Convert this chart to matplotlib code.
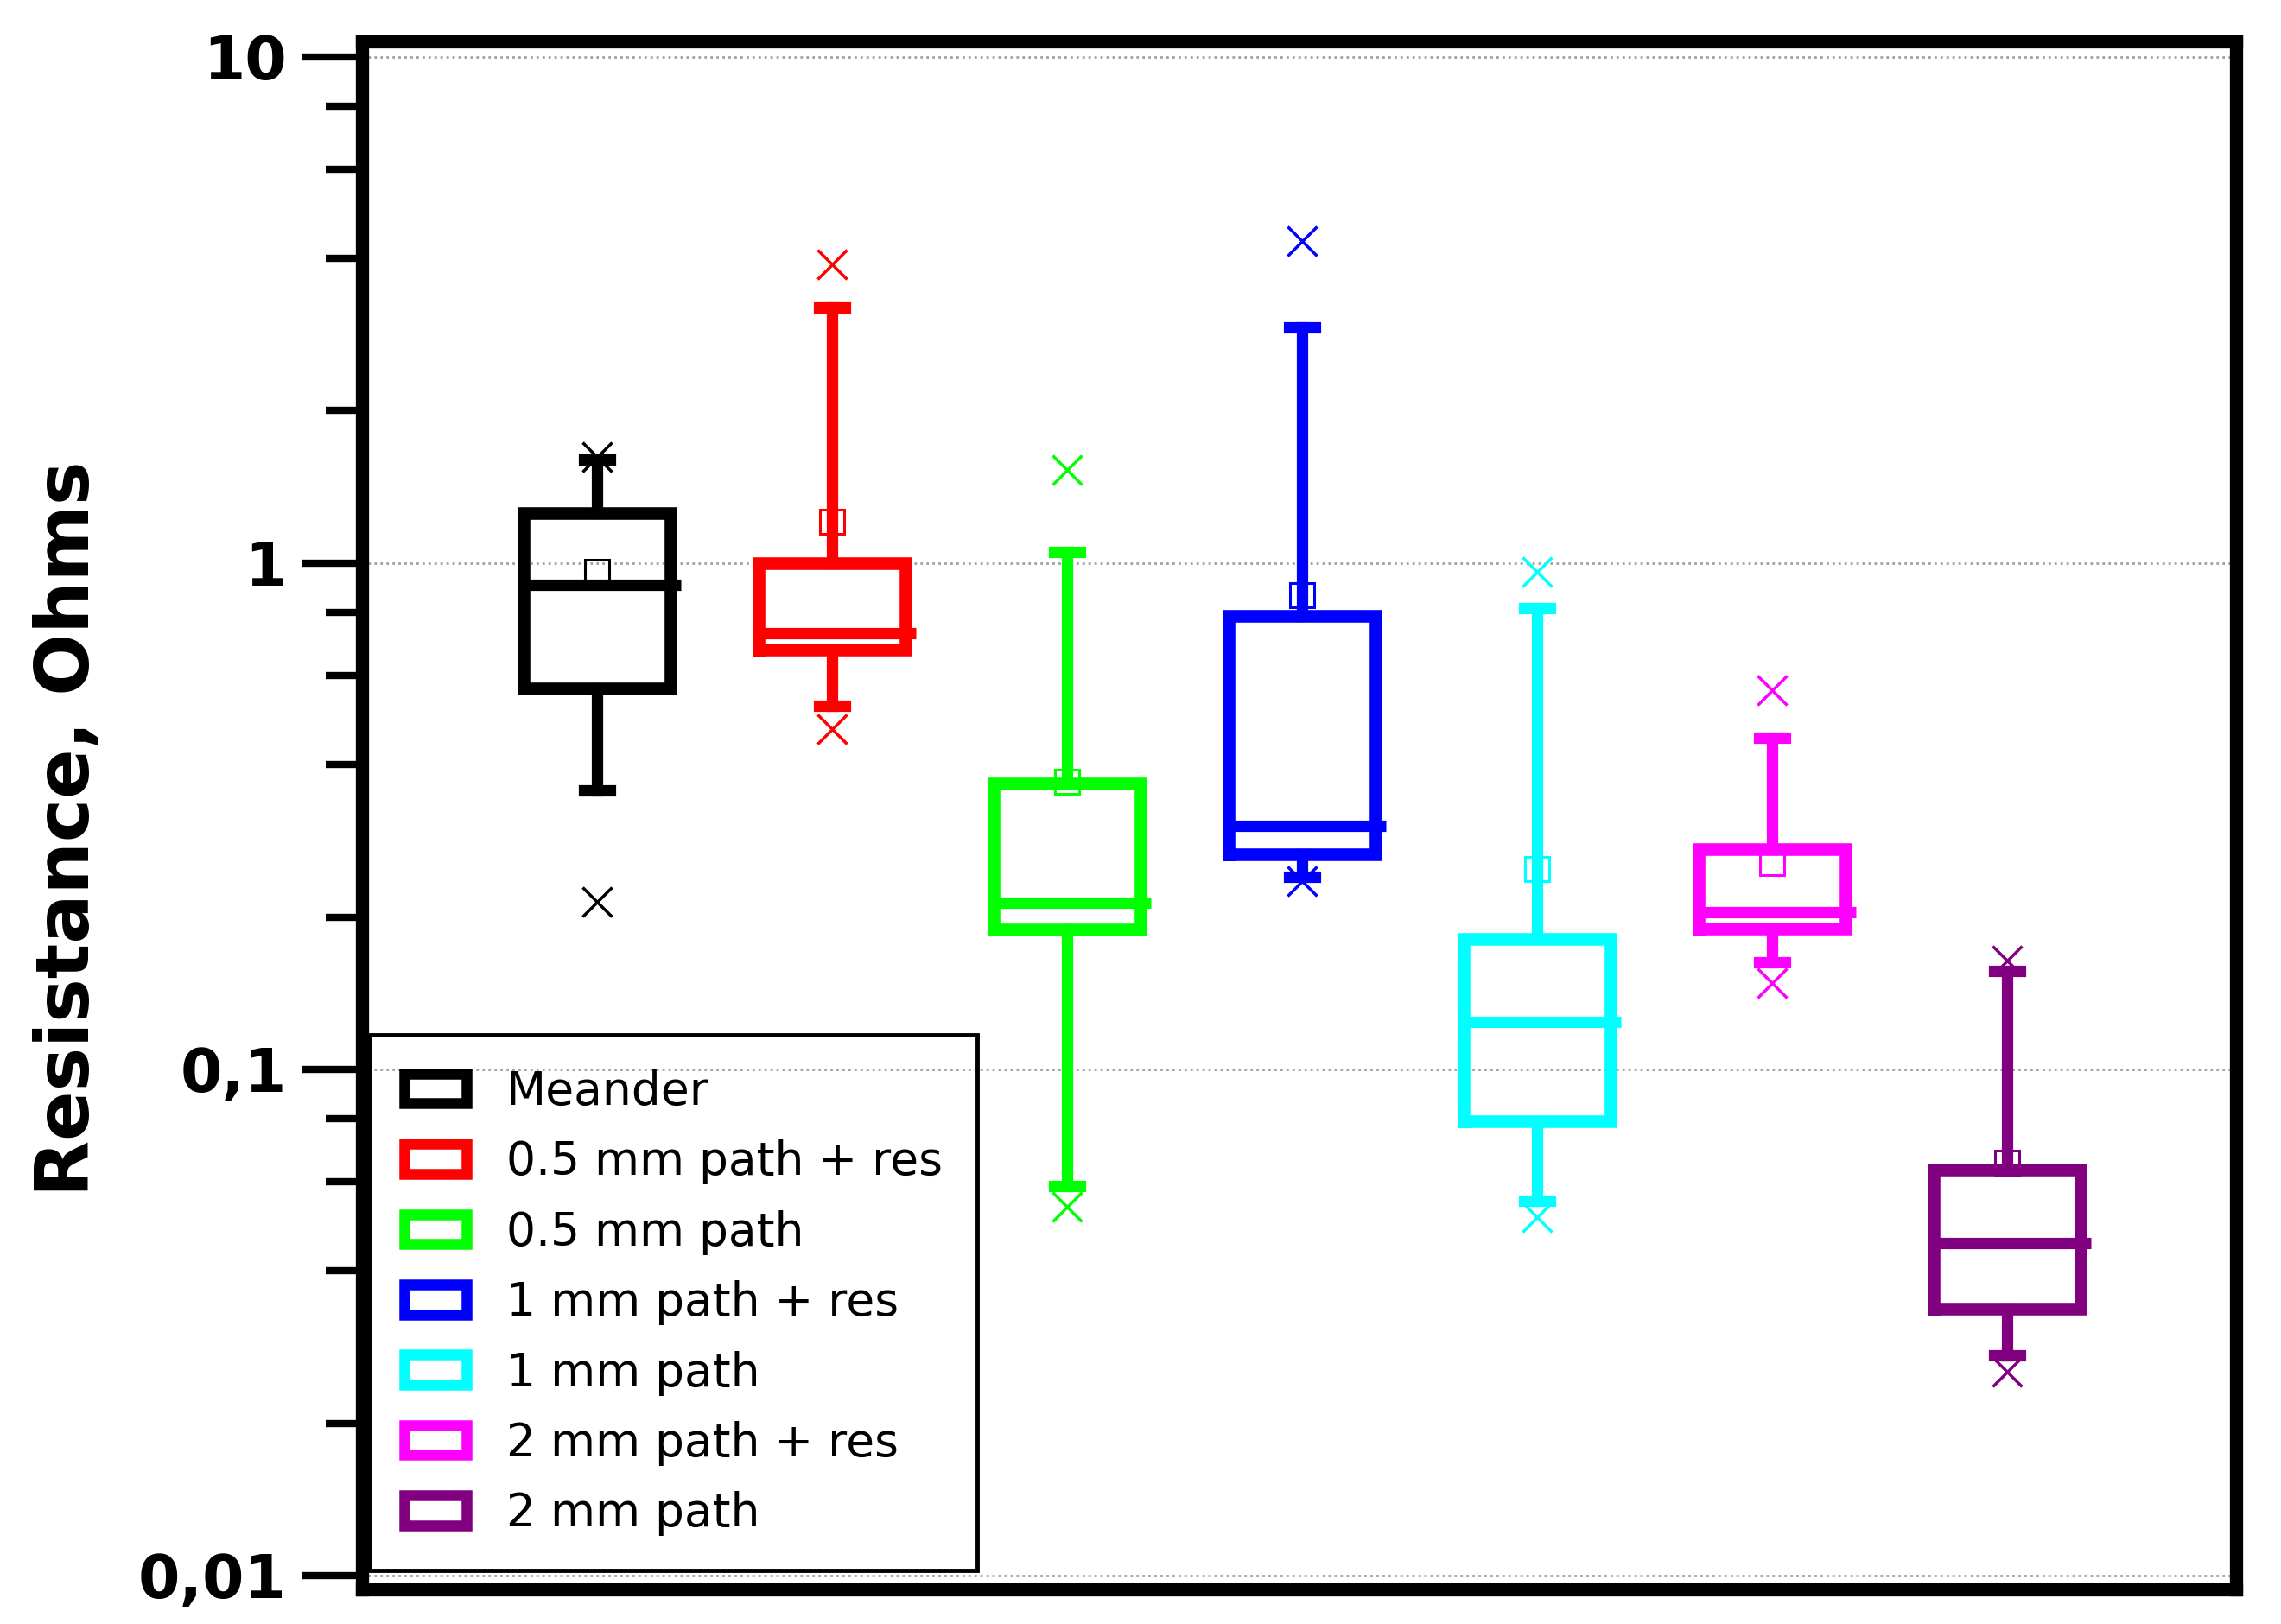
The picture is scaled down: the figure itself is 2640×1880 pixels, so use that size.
import matplotlib
matplotlib.use('Agg')
import matplotlib.pyplot as plt
from matplotlib.patches import Patch
from matplotlib.ticker import FixedLocator, NullFormatter

categories = ["Meander", "0.5 mm path + res", "0.5 mm path", "1 mm path + res",
              "1 mm path", "2 mm path + res", "2 mm path"]
colors = ["#000000", "#FF0000", "#00FF00", "#0000FF", "#00FFFF", "#FF00FF", "#800080"]

minimum = [0.214, 0.470, 0.0536, 0.235, 0.0511, 0.148, 0.0253]
whisker_low = [0.356, 0.522, 0.0588, 0.240, 0.0551, 0.163, 0.0272]
q1 = [0.566, 0.675, 0.189, 0.266, 0.0789, 0.190, 0.0336]
median = [0.905, 0.728, 0.213, 0.303, 0.124, 0.204, 0.0453]
mean = [0.960, 1.205, 0.370, 0.864, 0.249, 0.256, 0.0655]
q3 = [1.255, 1.000, 0.367, 0.788, 0.181, 0.272, 0.0634]
whisker_high = [1.60, 3.20, 1.05, 2.92, 0.815, 0.452, 0.1566]
maximum = [1.62, 3.90, 1.53, 4.33, 0.962, 0.560, 0.164]

major_ticks = [0.01, 0.1, 1, 10]
major_labels = ["0,01", "0,1", "1", "10"]
minor_ticks = [0.02, 0.04, 0.06, 0.08, 0.2, 0.4, 0.6, 0.8, 2, 4, 6, 8]

fig = plt.figure(figsize=(26.4, 18.8), dpi=100)
ax = fig.add_axes([0.1587, 0.0213, 0.8216, 0.9532])

positions = list(range(1, len(categories) + 1))
W = 0.626

for i, c in enumerate(colors):
    st = dict(med=median[i], q1=q1[i], q3=q3[i], whislo=whisker_low[i],
              whishi=whisker_high[i], mean=mean[i],
              fliers=[minimum[i], maximum[i]], label=categories[i])
    ax.bxp([st], positions=[positions[i]], widths=W, capwidths=0.11,
           showmeans=True, showfliers=True,
           boxprops=dict(color=c, linewidth=10.5, solid_joinstyle='miter'),
           whiskerprops=dict(color=c, linewidth=9.5),
           capprops=dict(color=c, linewidth=9.5),
           medianprops=dict(visible=False),
           meanprops=dict(marker='s', markerfacecolor='none', markeredgecolor=c,
                          markersize=20, markeredgewidth=2.2, zorder=4),
           flierprops=dict(marker='x', markeredgecolor=c, markersize=24,
                           markeredgewidth=2.5, linestyle='none', zorder=4))
    ax.hlines(median[i], positions[i] - W / 2, positions[i] + W / 2 + 0.045,
              colors=c, linewidth=9.5, zorder=3)

ax.set_yscale('log')
ax.set_ylim(0.00939, 10.73)
ax.set_xlim(0.0, 7.974)

ax.yaxis.set_major_locator(FixedLocator(major_ticks))
ax.set_yticklabels(major_labels, fontweight='bold')
ax.yaxis.set_minor_locator(FixedLocator(minor_ticks))
ax.yaxis.set_minor_formatter(NullFormatter())

ax.tick_params(axis='y', which='major', direction='out', length=50, width=6,
               pad=13, labelsize=50, right=False)
ax.tick_params(axis='y', which='minor', direction='out', length=30, width=6, right=False)
ax.tick_params(axis='x', which='both', bottom=False, top=False, labelbottom=False)

ax.yaxis.grid(True, which='major', linestyle=(0, (1, 1.5)), color='#a0a0a0', linewidth=2)
ax.xaxis.grid(False)
ax.set_axisbelow(True)

for sp in ax.spines.values():
    sp.set_linewidth(11)
    sp.set_color('black')

handles = [Patch(facecolor='none', edgecolor=c, linewidth=9) for c in colors]
leg = ax.legend(handles, categories, loc='lower left', bbox_to_anchor=(0.004, 0.012),
                borderaxespad=0, fontsize=38.5, frameon=True, fancybox=False,
                edgecolor='black', facecolor='none', framealpha=1,
                handlelength=1.36, handleheight=0.62, handletextpad=0.85,
                labelspacing=0.55, borderpad=0.75)
leg.get_frame().set_linewidth(3.5)

fig.text(0.030, 0.490, "Resistance, Ohms", rotation=90, ha='center', va='center',
         fontsize=61, fontweight='bold')

fig.savefig('out.png', dpi=100)
